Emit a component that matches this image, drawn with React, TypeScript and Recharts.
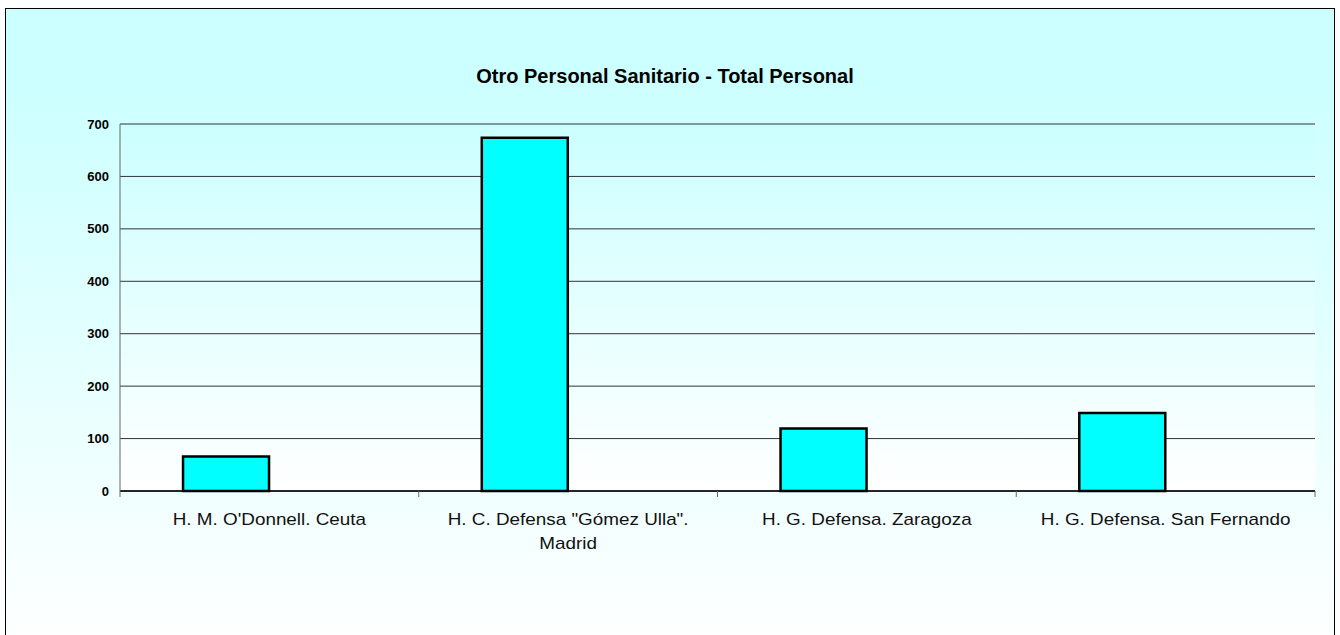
import React from 'react';
import { BarChart, Bar, XAxis, YAxis, CartesianGrid } from 'recharts';

const CHART_W = 1340;
const CHART_H = 635;
const PLOT_LEFT = 120;
const MARGIN_RIGHT = 25;

// Hospitales y total de "otro personal sanitario"
const categories = [
  "H. M. O'Donnell. Ceuta",
  'H. C. Defensa "Gómez Ulla". Madrid',
  'H. G. Defensa. Zaragoza',
  'H. G. Defensa. San Fernando',
];
const categoryLines = [
  ["H. M. O'Donnell. Ceuta"],
  ['H. C. Defensa "Gómez Ulla".', 'Madrid'],
  ['H. G. Defensa. Zaragoza'],
  ['H. G. Defensa. San Fernando'],
];
const totalPersonal = [66, 674, 119, 149];
// second series of the original sheet is empty
const emptySeries = [null, null, null, null];
const yTicks = [0, 100, 200, 300, 400, 500, 600, 700];

const data = categories.map((name, i) => ({
  name,
  total: totalPersonal[i],
  vacio: emptySeries[i],
}));

const BAND = (CHART_W - PLOT_LEFT - MARGIN_RIGHT) / categories.length;

const CategoryTick = (props: any) => {
  const { x, y, index } = props;
  const lines = categoryLines[index] || [];
  const left = x - BAND / 2;
  const right = x + BAND / 2;
  return (
    <g>
      <line x1={left} y1={y} x2={left} y2={y + 6} stroke="#666" strokeWidth={1} />
      {index === categories.length - 1 && (
        <line x1={right} y1={y} x2={right} y2={y + 6} stroke="#666" strokeWidth={1} />
      )}
      {lines.map((line: string, i: number) => (
        <text
          key={i}
          transform={`translate(${x},${y + 34 + i * 24}) scale(1.18,1)`}
          textAnchor="middle"
          fontFamily="'Liberation Sans', Arial, sans-serif"
          fontSize={16}
          fill="#111"
        >
          {line}
        </text>
      ))}
    </g>
  );
};

export default function App() {
  return (
    <div style={{ position: 'absolute', left: 0, top: 0, width: CHART_W, height: CHART_H, overflow: 'hidden' }}>
      <div
        style={{
          position: 'absolute',
          left: 5,
          top: 8,
          width: 1328,
          height: 640,
          border: '1.5px solid #000',
          background: 'linear-gradient(to bottom, #CCFFFF 0%, #CCFFFF 12%, #FFFFFF 100%)',
        }}
      />
      <div
        style={{
          position: 'absolute',
          left: 0,
          top: 66,
          width: 1330,
          textAlign: 'center',
          fontFamily: "'Liberation Sans', Arial, sans-serif",
          fontWeight: 'bold',
          fontSize: 20,
          lineHeight: '20px',
          color: '#000',
        }}
      >
        Otro Personal Sanitario - Total Personal
      </div>
      <div style={{ position: 'absolute', left: 0, top: 0 }}>
        <BarChart
          width={CHART_W}
          height={CHART_H}
          data={data}
          margin={{ top: 124, right: MARGIN_RIGHT, bottom: 84, left: 0 }}
          barCategoryGap="21.1%"
          barGap={0}
        >
          <defs>
            <linearGradient id="plotBg" x1="0" y1="0" x2="0" y2="1">
              <stop offset="0%" stopColor="#CCFFFF" />
              <stop offset="100%" stopColor="#FFFFFF" />
            </linearGradient>
          </defs>
          <CartesianGrid vertical={false} stroke="#333" strokeWidth={1} fill="url(#plotBg)" fillOpacity={1} yAxisId="left" />
          <XAxis
            dataKey="name"
            height={60}
            tickLine={false}
            tickSize={0}
            tickMargin={0}
            interval={0}
            axisLine={{ stroke: '#000', strokeWidth: 1.5 }}
            tick={<CategoryTick />}
          />
          <YAxis
            yAxisId="left"
            width={PLOT_LEFT}
            domain={[0, 700]}
            ticks={yTicks}
            tickLine={false}
            tickSize={0}
            tickMargin={11}
            axisLine={{ stroke: '#666' }}
            tick={{ fill: '#000', fontSize: 13, fontWeight: 'bold', fontFamily: "'Liberation Sans', Arial, sans-serif" }}
          />
          <YAxis
            yAxisId="right"
            orientation="right"
            width={0}
            tick={false}
            tickLine={false}
            axisLine={{ stroke: '#888' }}
          />
          <Bar yAxisId="left" dataKey="total" fill="#00FFFF" stroke="#000" strokeWidth={2.5} isAnimationActive={false} />
          <Bar yAxisId="left" dataKey="vacio" fill="#9999FF" stroke="#000" strokeWidth={2.5} isAnimationActive={false} />
        </BarChart>
      </div>
    </div>
  );
}
